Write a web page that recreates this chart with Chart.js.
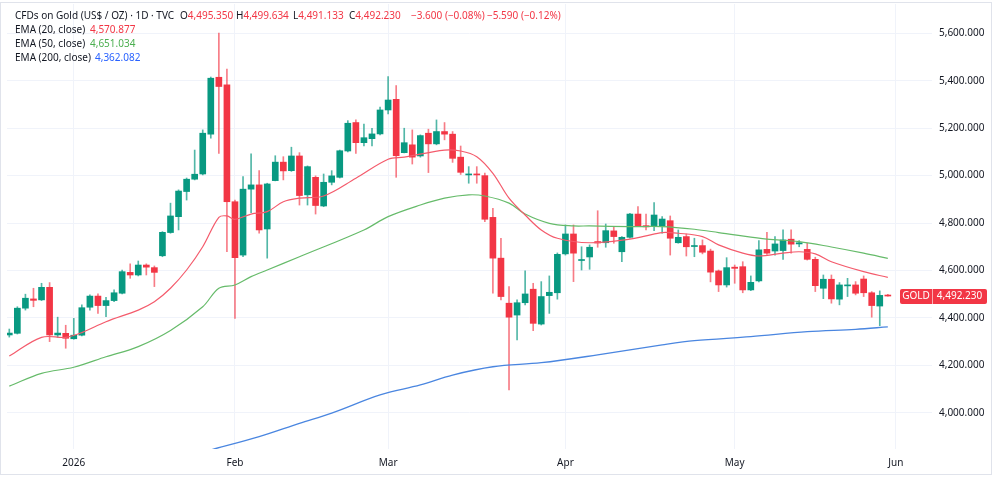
<!DOCTYPE html>
<html>
<head>
<meta charset="utf-8">
<title>CFDs on Gold</title>
<script src="https://cdn.jsdelivr.net/npm/chart.js@4.4.1/dist/chart.umd.min.js"></script>
<style>
  html, body { margin: 0; padding: 0; background: #fff; }
  #wrap { position: relative; width: 1000px; height: 477px; overflow: hidden; }
  #legend { position: absolute; left: 0; top: 0; font-family: "Noto Sans", sans-serif; font-size: 10px; color: #131722; }
  #legend span { position: absolute; white-space: nowrap; line-height: 14px; }
  .dn { color: #F23645; }
  .e50 { color: #4CAF50; }
  .e200 { color: #2962FF; }
</style>
</head>
<body>
<div id="wrap">
  <canvas id="chart" width="1000" height="477"></canvas>
  <div id="legend">
    <span style="left:15px;top:8px">CFDs on Gold (US$ / OZ) · 1D · TVC</span>
    <span style="left:180px;top:8px">O<b class="dn" style="font-weight:normal">4,495.350</b></span>
    <span style="left:236px;top:8px">H<b class="dn" style="font-weight:normal">4,499.634</b></span>
    <span style="left:293px;top:8px">L<b class="dn" style="font-weight:normal">4,491.133</b></span>
    <span style="left:349px;top:8px">C<b class="dn" style="font-weight:normal">4,492.230</b></span>
    <span class="dn" style="left:411px;top:8px">−3.600 (−0.08%)</span>
    <span class="dn" style="left:487px;top:8px">−5.590 (−0.12%)</span>
    <span style="left:15px;top:22px">EMA (20, close)</span>
    <span class="dn" style="left:90px;top:22px">4,570.877</span>
    <span style="left:15px;top:36px">EMA (50, close)</span>
    <span class="e50" style="left:90px;top:36px">4,651.034</span>
    <span style="left:15px;top:50px">EMA (200, close)</span>
    <span class="e200" style="left:95px;top:50px">4,362.082</span>
  </div>
</div>
<script>
// daily candles, index 0 = first visible session (Dec 19, 2025)
const opens = [4328,4335,4441,4480,4476,4529,4328,4335,4312,4327,
  4445,4492,4452,4473,4504,4592,4581,4623,4612,4662,
  4760,4827,4933,4985,5007,5175,5415,5383,4890,4665,
  4943,4961,4775,4979,5057,5021,5083,4919,4993,4872,
  4972,4993,5104,5224,5139,5156,5176,5277,5322,5097,
  5130,5083,5179,5134,5186,5175,5078,5003,5006,5000,
  4824,4652,4462,4412,4464,4521,4374,4494,4506,4670,
  4754,4642,4657,4722,4717,4767,4679,4740,4838,4789,
  4788,4788,4810,4717,4743,4701,4705,4682,4598,4539,
  4614,4616,4518,4556,4689,4682,4684,4732,4712,4689,
  4647,4525,4563,4479,4535,4539,4564,4506,4450,4495.35];
const highs = [4353,4447,4500,4525,4546,4549,4403,4369,4398,4455,
  4497,4501,4487,4518,4602,4628,4640,4628,4619,4764,
  4884,4940,4990,5108,5193,5416,5601,5449,4897,4996,
  5092,5021,4968,5084,5080,5120,5097,5041,4999,5007,
  5021,5108,5232,5235,5217,5200,5289,5418,5380,5200,
  5193,5172,5196,5235,5224,5186,5125,5038,5038,5011,
  4862,4736,4532,4476,4599,4546,4553,4577,4674,4792,
  4792,4700,4708,4852,4796,4784,4743,4841,4869,4838,
  4886,4827,4830,4771,4754,4736,4729,4690,4602,4654,
  4623,4637,4577,4726,4761,4743,4771,4771,4726,4715,
  4656,4581,4581,4549,4567,4553,4577,4511,4514,4499.634];
const lows = [4319,4332,4433,4447,4473,4300,4318,4272,4310,4324,
  4433,4419,4405,4468,4501,4567,4577,4581,4532,4658,
  4757,4771,4897,4982,5003,5158,5094,4679,4398,4658,
  4844,4757,4652,4978,4982,5018,4876,4876,4838,4869,
  4961,4990,5100,5094,5125,5125,5172,5260,4993,5096,
  5049,5078,5013,5130,5151,5056,5005,4968,4968,4806,
  4504,4476,4096,4307,4455,4346,4370,4419,4479,4665,
  4553,4602,4605,4698,4698,4715,4637,4736,4785,4771,
  4768,4757,4665,4715,4661,4658,4670,4552,4511,4530,
  4546,4506,4515,4552,4668,4665,4647,4673,4700,4644,
  4511,4481,4462,4455,4490,4497,4490,4403,4367,4491.133];
const closes = [4336,4441,4483,4474,4529,4328,4336,4314,4327,4443,
  4492,4452,4473,4506,4595,4581,4623,4614,4592,4761,
  4830,4935,4985,5006,5179,5411,5376,4890,4654,4943,
  4961,4771,4965,5057,5020,5083,4916,5038,4874,4972,
  4999,5105,5221,5139,5160,5176,5277,5319,5084,5139,
  5078,5169,5134,5186,5175,5073,5014,5007,5003,4816,
  4652,4490,4403,4464,4501,4377,4490,4508,4668,4754,
  4673,4646,4698,4716,4768,4743,4740,4838,4789,4784,
  4834,4817,4736,4740,4700,4705,4677,4593,4539,4612,
  4609,4518,4550,4687,4673,4712,4729,4711,4717,4647,
  4536,4563,4480,4539,4539,4504,4506,4452,4495,4492.23];

// EMA readings: [session index, value]
const ema20 = [[0,4239],[4,4318],[7,4318],[9,4338],[12,4384],[16,4433],[18,4468],[20,4525],
  [22,4602],[24,4700],[26,4824],[27,4830],[28,4816],[30,4838],[32,4848],[34,4890],[36,4905],
  [39,4914],[43,4989],[47,5069],[49,5078],[54,5108],[56,5104],[58,5080],[60,5010],[62,4905],
  [64,4834],[66,4771],[68,4736],[72,4717],[77,4732],[79,4746],[81,4760],[83,4757],[86,4743],
  [88,4708],[91,4673],[93,4661],[96,4673],[98,4679],[100,4670],[102,4637],[106,4595],[109,4570.877]];
const ema50 = [[0,4112],[4,4166],[8,4192],[12,4236],[16,4279],[20,4347],[24,4447],[26,4525],
  [28,4539],[30,4574],[32,4602],[36,4658],[44,4771],[47,4827],[51,4876],[54,4905],[57,4919],
  [59,4914],[62,4884],[64,4838],[67,4799],[70,4788],[72,4788],[77,4785],[81,4785],[85,4774],
  [88,4760],[90,4750],[94,4732],[98,4722],[102,4699],[106,4673],[109,4651.034]];
const ema200 = [[25,3843],[31,3899],[36,3955],[40,3998],[46,4075],[51,4117],[55,4159],[60,4194],
  [66,4211],[73,4244],[81,4286],[85,4304],[92,4321],[99,4342],[105,4352],[109,4362.082]];

const monthTickIdx = [8, 28, 47, 69, 90, 110];
const monthTickLabels = ['2026', 'Feb', 'Mar', 'Apr', 'May', 'Jun'];
const priceTicks = [4000, 4200, 4400, 4600, 4800, 5000, 5200, 5400, 5600];

const UP = '#089981';
const DOWN = '#F23645';

const idx = opens.map((_, i) => i);
const isUp = idx.map(i => closes[i] >= opens[i]);

const fmt = v => v.toLocaleString('en-US', { minimumFractionDigits: 3, maximumFractionDigits: 3 });

// price tag + frame
const extras = {
    id: 'extras',
    afterDraw(chart) {
        const { ctx, scales } = chart;
        const last = closes[closes.length - 1];
        const py = Math.round(scales.y.getPixelForValue(last));
        ctx.save();
        ctx.fillStyle = DOWN;
        ctx.beginPath();
        ctx.roundRect(900, py - 7, 87, 15, 2);
        ctx.fill();
        ctx.strokeStyle = 'rgba(255,255,255,0.6)';
        ctx.lineWidth = 1;
        ctx.beginPath();
        ctx.moveTo(932.5, py - 7);
        ctx.lineTo(932.5, py + 8);
        ctx.stroke();
        ctx.fillStyle = '#fff';
        ctx.font = '10px "Noto Sans", sans-serif';
        ctx.textBaseline = 'middle';
        ctx.textAlign = 'center';
        ctx.fillText('GOLD', 916, py + 0.5);
        ctx.fillText(fmt(last), 959.5, py + 0.5);
        ctx.strokeStyle = '#e0e3eb';
        ctx.strokeRect(0.5, 2.5, 991, 472);
        ctx.restore();
    }
};

const noPad = (scale) => {
    scale.paddingTop = 0;
    scale.paddingBottom = 0;
    scale.paddingLeft = 0;
    scale.paddingRight = 0;
};

const ctx = document.getElementById('chart').getContext('2d');
const chart = new Chart(ctx, {
    type: 'bar',
    data: {
        datasets: [
            {
                type: 'line',
                data: ema20.map(p => ({ x: p[0], y: p[1] })),
                borderColor: '#F45B6C',
                borderWidth: 1.2,
                pointRadius: 0,
                tension: 0.35,
                order: 0,
            },
            {
                type: 'line',
                data: ema50.map(p => ({ x: p[0], y: p[1] })),
                borderColor: '#66BB6A',
                borderWidth: 1.2,
                pointRadius: 0,
                tension: 0.35,
                order: 0,
            },
            {
                type: 'line',
                data: ema200.map(p => ({ x: p[0], y: p[1] })),
                borderColor: '#4A86E0',
                borderWidth: 1.3,
                pointRadius: 0,
                tension: 0.35,
                order: 0,
            },
            {
                // bodies
                data: idx.map(i => ({ x: i, y: [opens[i], closes[i]] })),
                backgroundColor: idx.map(i => isUp[i] ? UP : DOWN),
                barThickness: 6,
                minBarLength: 1,
                grouped: false,
                order: 1,
            },
            {
                // wicks
                data: idx.map(i => ({ x: i, y: [lows[i], highs[i]] })),
                backgroundColor: idx.map(i => isUp[i] ? 'rgba(8,153,129,0.7)' : 'rgba(242,54,69,0.65)'),
                barThickness: 1,
                grouped: false,
                order: 2,
            },
        ]
    },
    options: {
        responsive: false,
        animation: false,
        layout: { padding: { left: 7, top: 4, right: 0, bottom: 0 } },
        plugins: {
            legend: { display: false },
            tooltip: { enabled: false },
        },
        scales: {
            x: {
                type: 'linear',
                offset: false,
                min: -0.285,
                max: 114.48,
                afterBuildTicks: (scale) => {
                    scale.ticks = monthTickIdx.map(v => ({ value: v }));
                },
                afterFit: (scale) => { scale.height = 28; noPad(scale); },
                grid: { color: '#f0f3fa', drawTicks: false, offset: false },
                border: { display: false },
                ticks: {
                    padding: 8,
                    color: '#131722',
                    font: { family: '"Noto Sans", sans-serif', size: 10 },
                    maxRotation: 0,
                    autoSkip: false,
                    callback: (v) => {
                        const k = monthTickIdx.indexOf(v);
                        return k >= 0 ? monthTickLabels[k] : '';
                    }
                }
            },
            y: {
                position: 'right',
                min: 3847,
                max: 5724,
                afterBuildTicks: (scale) => {
                    scale.ticks = priceTicks.map(v => ({ value: v }));
                },
                afterFit: (scale) => { scale.width = 68; noPad(scale); },
                grid: { color: '#f0f3fa', drawTicks: false },
                border: { display: false },
                ticks: {
                    padding: 7,
                    color: '#131722',
                    font: { family: '"Noto Sans", sans-serif', size: 10 },
                    callback: (v) => fmt(v)
                }
            }
        }
    },
    plugins: [extras]
});
</script>
</body>
</html>
